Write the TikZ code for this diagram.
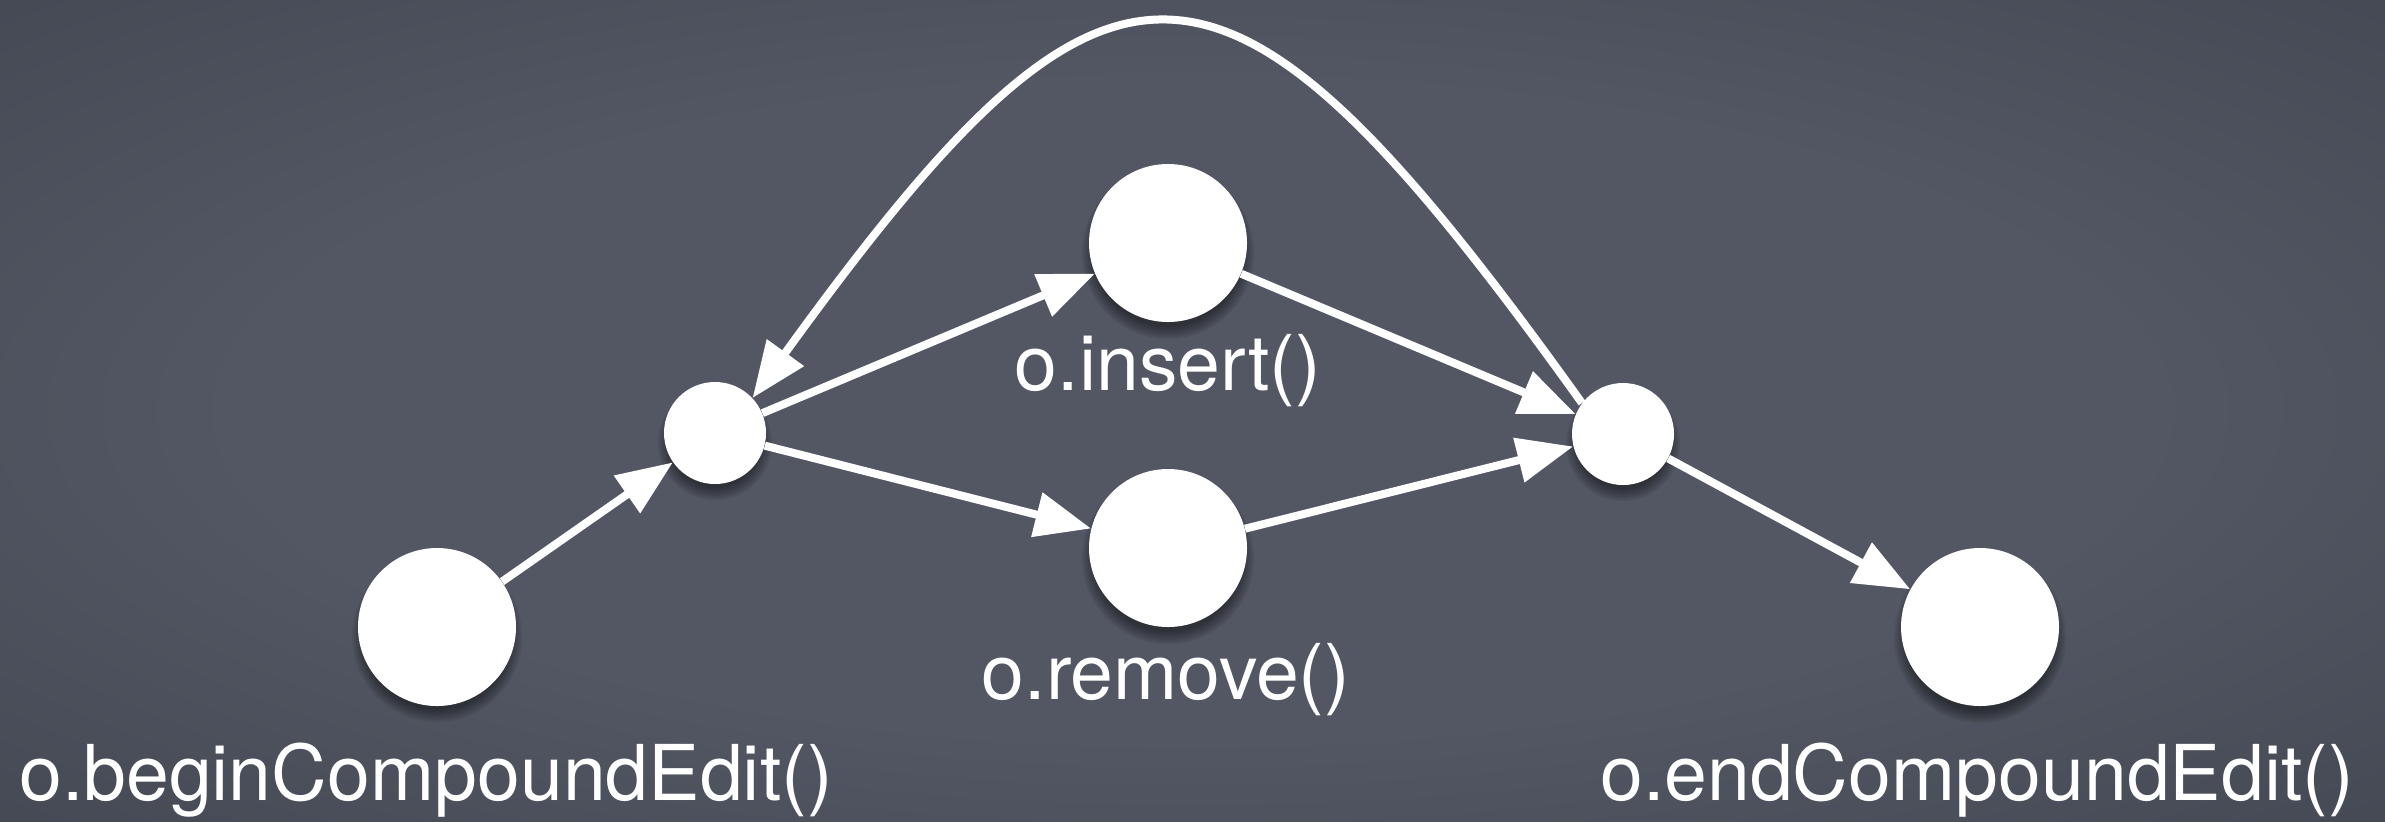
\documentclass[tikz,border=0pt]{standalone}
\usepackage{fontspec}
\setmainfont{TeX Gyre Heros}
\usetikzlibrary{arrows.meta}

\definecolor{boardcenter}{RGB}{82,87,99}
\definecolor{boardmid}{RGB}{69,73,84}
\definecolor{boardedge}{RGB}{49,51,58}
\definecolor{boardcorner}{RGB}{34,35,40}

% chalkboard: lighter in the middle, darker towards the edges
\pgfdeclareradialshading{board}{\pgfpoint{0bp}{0bp}}{%
  color(0bp)=(boardcenter); color(20bp)=(boardcenter);
  color(36bp)=(boardmid); color(50bp)=(boardedge); color(71bp)=(boardcorner)}

\pgfdeclarelayer{bg}
\pgfsetlayers{bg,main}

\tikzset{
  dot/.style={circle, fill=white, draw=none, inner sep=0pt},
  bigdot/.style={dot, minimum size=79pt},
  smalldot/.style={dot, minimum size=51pt},
  lab/.style={text=white, inner sep=0pt, anchor=base,
    font=\fontsize{38.5pt}{46pt}\selectfont},
  conn/.style={draw=white, line width=4pt,
    -{Triangle[length=28pt,width=22pt]}},
}

\begin{document}
\begin{tikzpicture}[x=0.5pt, y=-0.5pt]
  \useasboundingbox (0,0) rectangle (2385,821);

  % states
  \node[bigdot]   (begin) at (437,627)  {};
  \node[smalldot] (fork)  at (715,433)  {};
  \node[bigdot]   (ins)   at (1168,243) {};
  \node[bigdot]   (rem)   at (1168,548) {};
  \node[smalldot] (join)  at (1623,434) {};
  \node[bigdot]   (fin)   at (1980,627) {};

  % labels
  \node[lab] (tbegin) at (426,800)  {o.beginCompoundEdit()};
  \node[lab] (tins)   at (1168,390) {o.insert()};
  \node[lab] (trem)   at (1166,699) {o.remove()};
  \node[lab] (tfin)   at (1977,800) {o.endCompoundEdit()};

  % transitions
  \draw[conn] (begin) -- (fork);
  \draw[conn] (fork) -- (ins);
  \draw[conn] (fork) -- (rem);
  \draw[conn] (ins) -- (join);
  \draw[conn] (rem) -- (join);
  \draw[conn] (join) -- (fin);
  \draw[conn] (join.143) .. controls (1222,-100) and (1113,-100) .. (fork.43);

  \begin{pgfonlayer}{bg}
    \shade[shading=board] (0,0) rectangle (2385,821);
    % soft shadows under the states
    \foreach \n/\r in {begin/79, fork/51, ins/80, rem/80, join/51, fin/80}{
      \foreach \d in {-6,-4,...,6}{
        \fill[black, opacity=0.07] ([yshift=-5pt]\n.center) circle[radius=\r+\d];
      }
    }
  \end{pgfonlayer}
\end{tikzpicture}
\end{document}
